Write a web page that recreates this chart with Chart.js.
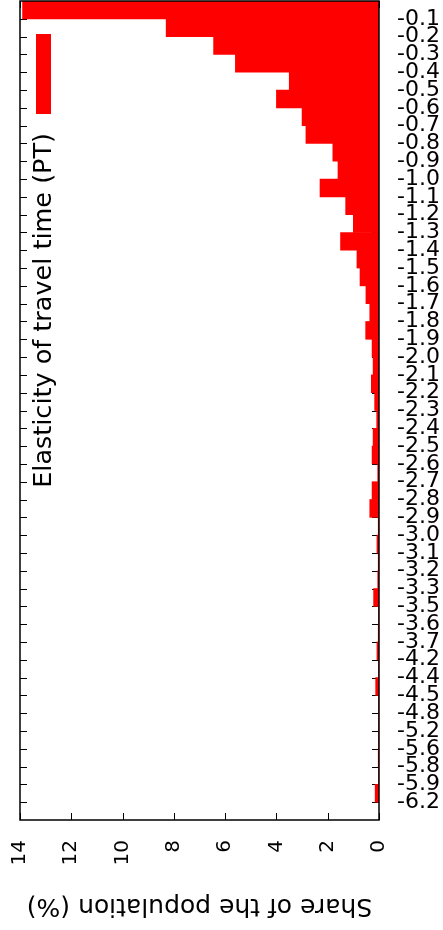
<!DOCTYPE html>
<html>
<head>
<meta charset="utf-8">
<script src="https://cdn.jsdelivr.net/npm/chart.js@4/dist/chart.umd.min.js"></script>
<style>
  html, body { margin: 0; padding: 0; background: #fff; }
  #wrap { width: 443px; height: 930px; position: relative; }
</style>
</head>
<body>
<div id="wrap"><canvas id="chart"></canvas></div>
<script>
// elasticity classes, top to bottom
const categories = [
    '-0.1', '-0.2', '-0.3', '-0.4', '-0.5', '-0.6', '-0.7', '-0.8', '-0.9', '-1.0',
    '-1.1', '-1.2', '-1.3', '-1.4', '-1.5', '-1.6', '-1.7', '-1.8', '-1.9', '-2.0',
    '-2.1', '-2.2', '-2.3', '-2.4', '-2.5', '-2.6', '-2.7', '-2.8', '-2.9', '-3.0',
    '-3.1', '-3.2', '-3.3', '-3.5', '-3.6', '-3.7', '-4.2', '-4.4', '-4.5', '-4.8',
    '-5.2', '-5.6', '-5.8', '-5.9', '-6.2'
];

// share of the population (%)
const share = [
    13.9, 8.3, 6.45, 5.6, 3.5, 4.0, 3.0, 2.85, 1.8, 1.6,
    2.3, 1.3, 1.0, 1.5, 0.86, 0.74, 0.51, 0.36, 0.52, 0.27,
    0.23, 0.30, 0.17, 0.09, 0.23, 0.27, 0.05, 0.27, 0.36, 0.03,
    0.08, 0.03, 0.05, 0.21, 0.02, 0.03, 0.08, 0.02, 0.13, 0.02,
    0.02, 0.02, 0.03, 0.02, 0.15
];

const shareTicks = [0, 2, 4, 6, 8, 10, 12, 14];

const seriesLabel = 'Elasticity of travel time (PT)';
const axisTitle = 'Share of the population (%)';

const FONT = 'DejaVu Sans';

// gnuplot style: inward ticks on all sides, frame, key and upside-down axis title
const gnuplotFrame = {
    id: 'gnuplotFrame',
    beforeDatasetsDraw(chart) {
        const { ctx, chartArea: a, scales } = chart;
        ctx.save();
        ctx.strokeStyle = '#000';
        ctx.lineWidth = 1;
        ctx.beginPath();
        categories.forEach((c, i) => {
            const y = Math.round(scales.y.getPixelForValue(i)) + 0.5;
            ctx.moveTo(a.left, y); ctx.lineTo(a.left + 7, y);
            ctx.moveTo(a.right, y); ctx.lineTo(a.right - 7, y);
        });
        shareTicks.forEach(v => {
            const x = Math.round(scales.x.getPixelForValue(v)) + 0.5;
            ctx.moveTo(x, a.bottom); ctx.lineTo(x, a.bottom - 7);
            ctx.moveTo(x, a.top); ctx.lineTo(x, a.top + 7);
        });
        ctx.stroke();
        ctx.restore();
    },
    afterDatasetsDraw(chart) {
        const { ctx, chartArea: a } = chart;
        ctx.save();
        ctx.strokeStyle = '#000';
        ctx.lineWidth = 1.5;
        ctx.strokeRect(a.left, a.top, a.right - a.left, a.bottom - a.top);

        // key: sample box then rotated text
        ctx.fillStyle = '#ff0000';
        ctx.fillRect(a.left + 16, a.top + 33, 15, 80);
        ctx.fillStyle = '#000';
        ctx.font = '25.5px "' + FONT + '"';
        ctx.translate(a.left + 24, a.top + 132);
        ctx.rotate(-Math.PI / 2);
        ctx.textAlign = 'right';
        ctx.textBaseline = 'middle';
        ctx.fillText(seriesLabel, 0, 0);
        ctx.restore();

        // x axis title, upside down
        ctx.save();
        ctx.fillStyle = '#000';
        ctx.font = '25px "' + FONT + '"';
        ctx.translate((a.left + a.right) / 2, 905);
        ctx.rotate(Math.PI);
        ctx.textAlign = 'center';
        ctx.textBaseline = 'middle';
        ctx.fillText(axisTitle, 0, 0);
        ctx.restore();
    }
};

// bar i fills the slot between tick i-1 and tick i
const bars = share.map((v, i) => ({ x: v, y: i - 0.5 }));

new Chart(document.getElementById('chart'), {
    type: 'bar',
    data: {
        datasets: [{
            label: seriesLabel,
            data: bars,
            backgroundColor: '#ff0000',
            borderWidth: 0,
            barPercentage: 1,
            categoryPercentage: 1
        }]
    },
    options: {
        indexAxis: 'y',
        responsive: true,
        maintainAspectRatio: false,
        animation: false,
        layout: { autoPadding: false, padding: { left: 20, top: 1, right: 0, bottom: 0 } },
        plugins: {
            legend: { display: false },
            tooltip: { enabled: false }
        },
        scales: {
            x: {
                type: 'linear',
                position: 'bottom',
                reverse: true,
                min: 0,
                max: 14,
                grid: { display: false, drawTicks: false },
                border: { display: false },
                ticks: {
                    stepSize: 2,
                    minRotation: 90,
                    maxRotation: 90,
                    padding: 20,
                    color: '#000',
                    font: { family: FONT, size: 20 }
                },
                afterFit(scale) {
                    scale.height = 110;
                    scale.paddingLeft = 0;
                    scale.paddingRight = 0;
                }
            },
            y: {
                type: 'linear',
                position: 'right',
                reverse: true,
                offset: false,
                min: -1,
                max: 45,
                grid: { display: false, drawTicks: false },
                border: { display: false },
                ticks: {
                    stepSize: 1,
                    autoSkip: false,
                    padding: 18,
                    color: '#000',
                    font: { family: FONT, size: 22 },
                    callback: v => (Number.isInteger(v) && v >= 0 && v < categories.length) ? categories[v] : ''
                },
                afterFit(scale) {
                    scale.width = 64;
                    scale.paddingTop = 0;
                    scale.paddingBottom = 0;
                }
            }
        }
    },
    plugins: [gnuplotFrame]
});
</script>
</body>
</html>
